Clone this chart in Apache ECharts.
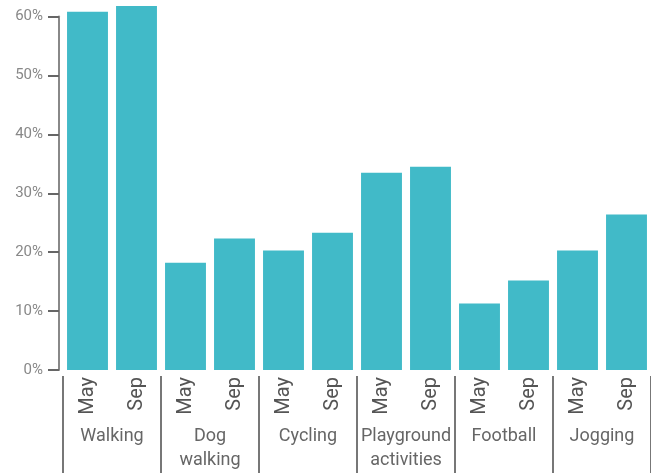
<!DOCTYPE html>
<html>
<head>
<meta charset="utf-8">
<script src="https://cdn.jsdelivr.net/npm/echarts@6/dist/echarts.min.js"></script>
<style>
  html, body { margin: 0; padding: 0; background: #fff; }
  #chart { width: 651px; height: 473px; }
</style>
</head>
<body>
<div id="chart"></div>
<script>
// Share of respondents per activity, surveyed in May and September
const months = ['May', 'Sep', 'May', 'Sep', 'May', 'Sep', 'May', 'Sep', 'May', 'Sep', 'May', 'Sep'];
const activities = ['Walking', 'Dog\nwalking', 'Cycling', 'Playground\nactivities', 'Football', 'Jogging'];
const shares = [60.8, 61.8, 18.2, 22.3, 20.3, 23.3, 33.5, 34.5, 11.3, 15.2, 20.3, 26.4];
const yTicks = { min: 0, max: 60, interval: 10 };

const FONT = 'Roboto';
const chart = echarts.init(document.getElementById('chart'));

chart.setOption({
  animation: false,
  grid: { left: 63, top: 16.5, width: 589, bottom: 103, containLabel: false },
  xAxis: [
    {
      type: 'category',
      data: months,
      position: 'bottom',
      axisLine: { show: false },
      axisTick: { show: false },
      axisLabel: {
        rotate: 90,
        margin: 7,
        fontFamily: FONT,
        fontSize: 20,
        color: '#555'
      }
    },
    {
      type: 'category',
      data: activities,
      position: 'bottom',
      offset: 6,
      axisLine: { show: false },
      axisTick: {
        show: true,
        interval: 0,
        length: 100,
        lineStyle: { color: '#777', width: 2 }
      },
      axisLabel: {
        interval: 0,
        margin: 48,
        fontFamily: FONT,
        fontSize: 18,
        lineHeight: 24,
        color: '#666'
      }
    }
  ],
  yAxis: {
    type: 'value',
    min: yTicks.min,
    max: yTicks.max,
    interval: yTicks.interval,
    offset: 4,
    splitLine: { show: false },
    axisLine: { show: true, lineStyle: { color: '#888', width: 2 } },
    axisTick: { show: true, length: 11, lineStyle: { color: '#666', width: 2 } },
    axisLabel: {
      margin: 16,
      fontFamily: FONT,
      fontSize: 15,
      color: '#888',
      formatter: '{value}%'
    }
  },
  series: [
    {
      type: 'bar',
      xAxisIndex: 0,
      data: shares,
      clip: false,
      barCategoryGap: '16.5%',
      itemStyle: { color: '#41BAC8' }
    }
  ]
});
</script>
</body>
</html>
